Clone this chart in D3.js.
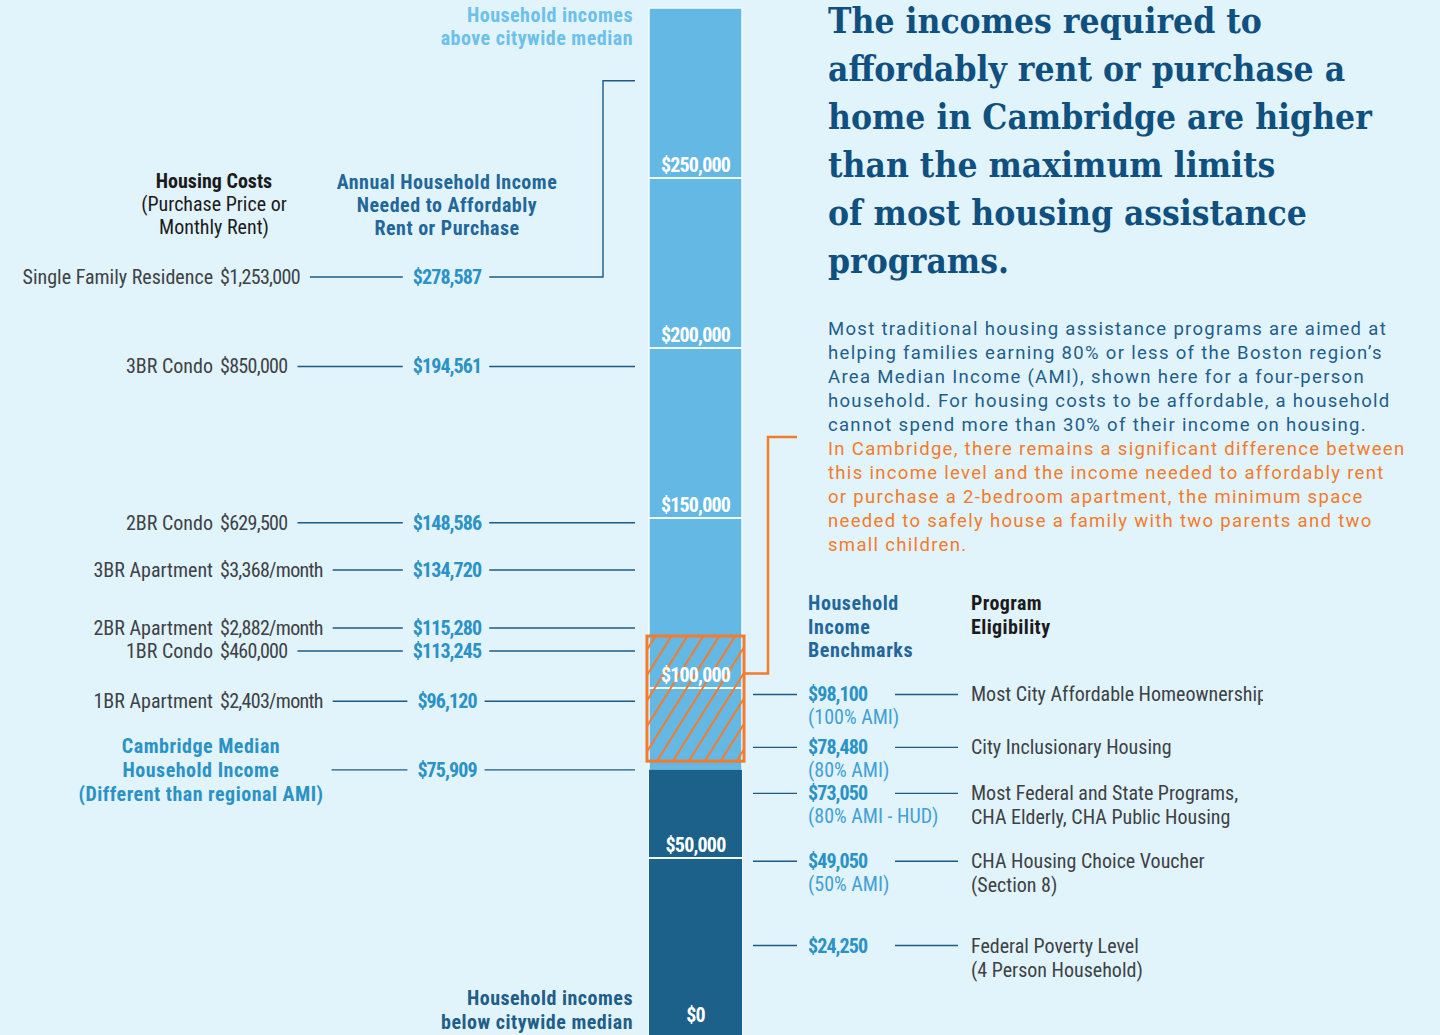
<!DOCTYPE html>
<html>
<head>
<meta charset="utf-8">
<script src="https://cdn.jsdelivr.net/npm/d3@7"></script>
<style>
  body { margin: 0; background: #e1f3fb; }
  svg { display: block; }
</style>
</head>
<body>
<div id="chart"></div>
<script>
// Housing costs and the income needed to afford them
const housingTypes = ['Single Family Residence', '3BR Condo', '2BR Condo', '3BR Apartment', '2BR Apartment', '1BR Condo', '1BR Apartment'];
const housingCosts = ['$1,253,000', '$850,000', '$629,500', '$3,368/month', '$2,882/month', '$460,000', '$2,403/month'];
const requiredIncome = [278587, 194561, 148586, 134720, 115280, 113245, 96120];

// Cambridge median household income
const medianIncome = 75909;

// Household income benchmarks and program eligibility
const benchmarkIncome = [98100, 78480, 73050, 49050, 24250];
const benchmarkNotes = ['(100% AMI)', '(80% AMI)', '(80% AMI - HUD)', '(50% AMI)', ''];
const programs = [
  ['Most City Affordable Homeownership'],
  ['City Inclusionary Housing'],
  ['Most Federal and State Programs,', 'CHA Elderly, CHA Public Housing'],
  ['CHA Housing Choice Voucher', '(Section 8)'],
  ['Federal Poverty Level', '(4 Person Household)'],
];

// Gap between 80% AMI and the income needed for a 2BR apartment
const gapRange = [78480, 115280];
const barTicks = [0, 50000, 100000, 150000, 200000, 250000];
const yMax = 300000;

const titleLines = ['The incomes required to', 'affordably rent or purchase a', 'home in Cambridge are higher',
  'than the maximum limits', 'of most housing assistance', 'programs.'];
const bodyLines = ['Most traditional housing assistance programs are aimed at',
  'helping families earning 80% or less of the Boston region\u2019s',
  'Area Median Income (AMI), shown here for a four-person',
  'household. For housing costs to be affordable, a household',
  'cannot spend more than 30% of their income on housing.'];
const noteLines = ['In Cambridge, there remains a significant difference between',
  'this income level and the income needed to affordably rent',
  'or purchase a 2-bedroom apartment, the minimum space',
  'needed to safely house a family with two parents and two',
  'small children.'];

const W = 1440, H = 1035;
const C = {
  bg: '#e1f3fb', light: '#64b8e4', dark: '#1c6189', orange: '#f47b2a', title: '#10507f',
  body: '#1f5e8b', value: '#2b92c6', note: '#42a0d4', head: '#23679a', gray: '#3d4246',
  line: '#1f5a84', above: '#6cc0ea', below: '#1f5e88', black: '#1b1b1b',
};
const COND = '"Liberation Sans Narrow", "Roboto Condensed", "DejaVu Sans Condensed", "Arial Narrow", sans-serif';
const money = d3.format('$,');

const svg = d3.select('#chart').append('svg').attr('width', W).attr('height', H);
svg.append('rect').attr('width', W).attr('height', H).attr('fill', C.bg);

const y = d3.scaleLinear().domain([0, yMax]).range([1028, 8]);
const barX0 = 649, barX1 = 742, barMid = (barX0 + barX1) / 2;

function txt(g, x, yy, s, o) {
  const t = g.append('text').attr('x', x).attr('y', yy).text(s)
    .style('font-family', o.family || COND)
    .style('font-size', `${o.size || 20}px`)
    .style('font-weight', o.bold ? 'bold' : 'normal')
    .attr('fill', o.color || C.gray)
    .attr('text-anchor', o.anchor || 'start');
  if (o.dy) t.attr('dy', o.dy);
  if (o.ls) t.style('letter-spacing', `${o.ls}px`);
  return t;
}

function relax(items, gap, minY) {
  items.sort((a, b) => a.y - b.y);
  items.forEach((d) => { d.ly = Math.max(d.y, minY); });
  for (let k = 0; k < 60; k += 1) {
    for (let i = 1; i < items.length; i += 1) {
      const o = gap - (items[i].ly - items[i - 1].ly);
      if (o > 0) {
        items[i - 1].ly -= o / 2;
        items[i].ly += o / 2;
      }
    }
    items.forEach((d) => { d.ly = Math.max(d.ly, minY); });
  }
}

// ---- Bar
const defs = svg.append('defs');
defs.append('pattern')
  .attr('id', 'hatch')
  .attr('patternUnits', 'userSpaceOnUse')
  .attr('width', 13.5)
  .attr('height', 13.5)
  .attr('patternTransform', 'rotate(32)')
  .append('line')
  .attr('x1', 2).attr('y1', 0).attr('x2', 2).attr('y2', 13.5)
  .attr('stroke', C.orange)
  .attr('stroke-width', 2);

const barG = svg.append('g');
barG.append('rect')
  .attr('x', barX0).attr('y', y(yMax))
  .attr('width', barX1 - barX0).attr('height', H - y(yMax))
  .attr('fill', C.light)
  .attr('stroke', '#f4fbfe').attr('stroke-width', 1.5);
barG.append('rect')
  .attr('x', barX0).attr('y', y(medianIncome))
  .attr('width', barX1 - barX0).attr('height', H - y(medianIncome))
  .attr('fill', C.dark);

barG.selectAll('.sep')
  .data(barTicks.filter(d => d > 0))
  .enter()
  .append('line')
  .attr('x1', barX0).attr('x2', barX1)
  .attr('y1', d => y(d)).attr('y2', d => y(d))
  .attr('stroke', '#f4fbfe').attr('stroke-width', 2);

// hatched gap
barG.append('rect')
  .attr('x', barX0 - 2).attr('y', y(gapRange[1]))
  .attr('width', barX1 - barX0 + 4).attr('height', y(gapRange[0]) - y(gapRange[1]))
  .attr('fill', 'url(#hatch)')
  .attr('stroke', C.orange).attr('stroke-width', 3);

barG.selectAll('.tick')
  .data(barTicks)
  .enter()
  .append('text')
  .attr('x', barMid)
  .attr('y', d => y(d) - 6)
  .attr('text-anchor', 'middle')
  .attr('fill', '#ffffff')
  .style('font-family', COND)
  .style('font-size', '20px')
  .style('font-weight', 'bold')
  .style('letter-spacing', '-0.8px')
  .text(d => money(d));

// ---- Above / below median labels
const labG = svg.append('g');
txt(labG, 633, 22, 'Household incomes', { bold: true, color: C.above, anchor: 'end', ls: 0.5 });
txt(labG, 633, 45, 'above citywide median', { bold: true, color: C.above, anchor: 'end', ls: 0.5 });
txt(labG, 633, 1005, 'Household incomes', { bold: true, color: C.below, anchor: 'end', ls: 0.5 });
txt(labG, 633, 1029, 'below citywide median', { bold: true, color: C.below, anchor: 'end', ls: 0.5 });

// ---- Left column headers
const leftG = svg.append('g');
const costX = 214, incX = 447;
txt(leftG, costX, 188, 'Housing Costs', { bold: true, color: C.black, anchor: 'middle' });
txt(leftG, costX, 211, '(Purchase Price or', { color: C.black, anchor: 'middle' });
txt(leftG, costX, 234, 'Monthly Rent)', { color: C.black, anchor: 'middle' });
txt(leftG, incX, 189, 'Annual Household Income', { bold: true, color: C.head, anchor: 'middle', ls: 0.5 });
txt(leftG, incX, 212, 'Needed to Affordably', { bold: true, color: C.head, anchor: 'middle', ls: 0.5 });
txt(leftG, incX, 235, 'Rent or Purchase', { bold: true, color: C.head, anchor: 'middle', ls: 0.5 });

const leftRows = housingTypes.map((t, i) => ({
  type: t, cost: housingCosts[i], value: requiredIncome[i], y: y(requiredIncome[i]),
}));
relax(leftRows, 23, 277);

const nameX = 213, priceX = 220, lineEnd = barX0 - 14, elbowX = barX0 - 46;
leftRows.forEach((d) => {
  txt(leftG, nameX, d.ly, d.type, { anchor: 'end', dy: '0.35em' });
  const p = txt(leftG, priceX, d.ly, d.cost, { dy: '0.35em', ls: -0.7 });
  const pEnd = priceX + p.node().getComputedTextLength();
  const v = txt(leftG, incX, d.ly, money(d.value), { bold: true, color: C.value, anchor: 'middle', dy: '0.35em', ls: -0.9 });
  const vw = v.node().getComputedTextLength();
  leftG.append('line')
    .attr('x1', pEnd + 10).attr('x2', incX - vw / 2 - 10)
    .attr('y1', d.ly).attr('y2', d.ly)
    .attr('stroke', C.line).attr('stroke-width', 1.4);
  const pts = Math.abs(d.ly - d.y) > 12
    ? [[incX + vw / 2 + 8, d.ly], [elbowX, d.ly], [elbowX, d.y], [lineEnd, d.y]]
    : [[incX + vw / 2 + 8, d.ly], [lineEnd, d.ly]];
  leftG.append('path')
    .attr('d', d3.line()(pts))
    .attr('fill', 'none')
    .attr('stroke', C.line).attr('stroke-width', 1.4);
});

// median
const my = y(medianIncome);
const medX = 201;
const medLines = ['Cambridge Median', 'Household Income', '(Different than regional AMI)'];
let medW = 0;
medLines.forEach((s, i) => {
  const t = txt(leftG, medX, my + (i - 1) * 24, s, { bold: true, color: C.value, anchor: 'middle', dy: '0.35em', ls: 0.5 });
  medW = Math.max(medW, t.node().getComputedTextLength());
});
const mv = txt(leftG, incX, my, money(medianIncome), { bold: true, color: C.value, anchor: 'middle', dy: '0.35em', ls: -0.9 });
const mvw = mv.node().getComputedTextLength();
leftG.append('line')
  .attr('x1', medX + medW / 2 + 8).attr('x2', incX - mvw / 2 - 10)
  .attr('y1', my).attr('y2', my)
  .attr('stroke', C.line).attr('stroke-width', 1.4);
leftG.append('line')
  .attr('x1', incX + mvw / 2 + 8).attr('x2', lineEnd)
  .attr('y1', my).attr('y2', my)
  .attr('stroke', C.line).attr('stroke-width', 1.4);

// ---- Right column
const rightG = svg.append('g');
const benchX = 808, progX = 971;
['Household', 'Income', 'Benchmarks'].forEach((s, i) => {
  txt(rightG, benchX, 610 + i * 23.5, s, { bold: true, color: C.head, ls: 0.6 });
});
['Program', 'Eligibility'].forEach((s, i) => {
  txt(rightG, progX, 610 + i * 23.5, s, { bold: true, color: C.black, ls: 0.4 });
});

defs.append('clipPath').attr('id', 'progClip')
  .append('rect').attr('x', progX - 2).attr('y', 0).attr('width', 1263 - progX + 2).attr('height', H);

const rightRows = benchmarkIncome.map((v, i) => ({
  value: v, note: benchmarkNotes[i], prog: programs[i], y: y(v),
}));
relax(rightRows, 46, 0);
const progG = rightG.append('g').attr('clip-path', 'url(#progClip)');
rightRows.forEach((d) => {
  rightG.append('line')
    .attr('x1', barX1 + 11).attr('x2', benchX - 11)
    .attr('y1', d.ly).attr('y2', d.ly)
    .attr('stroke', C.line).attr('stroke-width', 1.4);
  txt(rightG, benchX, d.ly, money(d.value), { bold: true, color: C.value, dy: '0.35em', ls: -0.9 });
  if (d.note) txt(rightG, benchX, d.ly + 23, d.note, { color: C.note, dy: '0.35em' });
  rightG.append('line')
    .attr('x1', benchX + 87).attr('x2', progX - 13)
    .attr('y1', d.ly).attr('y2', d.ly)
    .attr('stroke', C.line).attr('stroke-width', 1.4);
  d.prog.forEach((s, i) => {
    txt(progG, progX, d.ly + i * 24, s, { dy: '0.35em' });
  });
});

// ---- Title
const textX = 828;
const titleG = svg.append('g');
const titleFont = '"DejaVu Serif", "Liberation Serif", serif';
const tt = titleLines.map((s, i) => txt(titleG, textX, 33 + i * 48, s, {
  family: titleFont, size: 34, bold: true, color: C.title,
}).style('font-stretch', 'condensed'));
const widest = d3.max(tt, t => t.node().getComputedTextLength());
const titleSize = 34 * (544 / widest);
tt.forEach(t => t.style('font-size', `${titleSize}px`));

// ---- Body paragraph
const bodyG = svg.append('g');
const bodyFont = 'Roboto, "Open Sans", sans-serif';
const probe = txt(bodyG, textX, -50, bodyLines[0], { family: bodyFont, size: 18.5 });
const pw = probe.node().getComputedTextLength();
probe.remove();
const ls = (559 - pw) / bodyLines[0].length;
bodyLines.concat(noteLines).forEach((s, i) => {
  txt(bodyG, textX, 335 + i * 24, s, {
    family: bodyFont, size: 18.5, color: i < bodyLines.length ? C.body : C.orange, ls,
  });
});

// ---- Orange bracket from the gap to the note
const gapTop = y(gapRange[1]);
const gapBot = y(gapRange[0]);
const bx = barX1 + 26;
const by = gapTop + (gapBot - gapTop) * 0.3;
const noteTop = 335 + bodyLines.length * 24 - 18;
svg.append('path')
  .attr('d', d3.line()([[barX1 + 3, by], [bx, by], [bx, noteTop], [bx + 29, noteTop]]))
  .attr('fill', 'none')
  .attr('stroke', C.orange).attr('stroke-width', 2.5);
</script>
</body>
</html>
